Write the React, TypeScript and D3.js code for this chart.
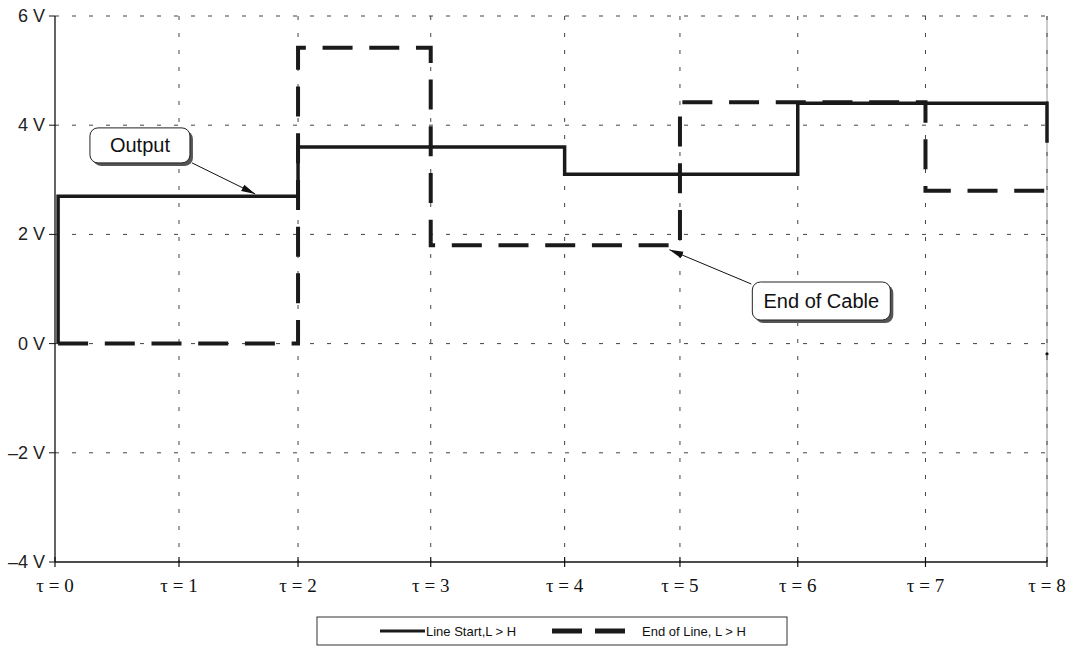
import React from "react";
import * as d3 from "d3";

// ---- Data ----
// tick positions on the time axis (in units of tau) and their labels
const tickTimes = [0, 1.0, 1.96, 3.03, 4.11, 5.04, 5.99, 7.02, 8];
const tickLabels = ["τ = 0", "τ = 1", "τ = 2", "τ = 3", "τ = 4", "τ = 5", "τ = 6", "τ = 7", "τ = 8"];
const yTicks = [6, 4, 2, 0, -2, -4];
const yTickLabels = ["6 V", "4 V", "2 V", "0 V", "–2 V", "–4 V"];

// Line Start, L > H (solid) — vertices of the step trace
const solidT = [0.025, 0.025, 1.96, 1.96, 4.11, 4.11, 5.99, 5.99, 8, 8];
const solidV = [0, 2.7, 2.7, 3.6, 3.6, 3.1, 3.1, 4.4, 4.4, 3.68];

// End of Line, L > H (dashed)
const dashT = [0.025, 1.96, 1.96, 3.03, 3.03, 5.04, 5.04, 7.02, 7.02, 8];
const dashV = [0, 0, 5.42, 5.42, 1.8, 1.8, 4.42, 4.42, 2.8, 2.8];

const endDotT = [8];
const endDotV = [-0.19];

const seriesNames = ["Line Start,L > H", "End of Line, L > H"];

const W = 1073;
const H = 647;
const M = { left: 55, right: 1047, top: 16, bottom: 562 };

export default function App() {
  const x = d3.scaleLinear().domain([0, 8]).range([M.left, M.right]);
  const y = d3.scaleLinear().domain([-4, 6]).range([M.bottom, M.top]);

  const line = d3
    .line<[number, number]>()
    .x((d) => x(d[0]))
    .y((d) => y(d[1]));

  const solidPts = solidT.map((t, i) => [t, solidV[i]] as [number, number]);
  const dashPts = dashT.map((t, i) => [t, dashV[i]] as [number, number]);

  const sans = "'Liberation Sans', Arial, sans-serif";
  const serif = "'Liberation Serif', 'Times New Roman', serif";

  // annotations (box centre in data coords, arrow tip in data coords)
  const annotations = [
    { text: "Output", cx: 0.685, cv: 3.63, w: 100, h: 35, tipT: 1.615, tipV: 2.74, corner: "br" },
    { text: "End of Cable", cx: 6.18, cv: 0.78, w: 138, h: 38, tipT: 4.955, tipV: 1.72, corner: "tl" },
  ];

  return (
    <svg
      width={W}
      height={H}
      style={{ position: "absolute", left: 0, top: 0, background: "#fff" }}
    >
      <defs>
        <marker
          id="arrow"
          viewBox="0 0 14 8"
          refX="14"
          refY="4"
          markerWidth="14"
          markerHeight="8"
          markerUnits="userSpaceOnUse"
          orient="auto"
        >
          <path d="M0,0.5 L14,4 L0,7.5 Z" fill="#111" />
        </marker>
      </defs>

      {/* horizontal gridlines */}
      {yTicks
        .filter((v) => v !== -4)
        .map((v) => (
          <line
            key={"hg" + v}
            x1={M.left}
            x2={M.right}
            y1={y(v)}
            y2={y(v)}
            stroke="#444"
            strokeWidth={1}
            strokeDasharray="4,13"
          />
        ))}
      {/* right border */}
      <line x1={M.right} x2={M.right} y1={M.top} y2={M.bottom} stroke="#999" strokeWidth={1} />
      {/* vertical gridlines */}
      {tickTimes
        .filter((t) => t !== 0)
        .map((t) => (
          <line
            key={"vg" + t}
            x1={x(t)}
            x2={x(t)}
            y1={M.top}
            y2={M.bottom}
            stroke="#444"
            strokeWidth={1}
            strokeDasharray="4,13"
          />
        ))}

      {/* axes */}
      <line x1={M.left} x2={M.left} y1={M.top} y2={M.bottom} stroke="#111" strokeWidth={1.3} />
      <line x1={M.left} x2={M.right} y1={M.bottom} y2={M.bottom} stroke="#111" strokeWidth={1.6} />
      {yTicks.map((v, i) => (
        <g key={"yt" + v}>
          <line x1={M.left - 6} x2={M.left} y1={y(v)} y2={y(v)} stroke="#111" strokeWidth={1} />
          <text
            x={M.left - 10}
            y={y(v) + 6}
            textAnchor="end"
            fontFamily={sans}
            fontSize={18}
            fill="#222"
          >
            {yTickLabels[i]}
          </text>
        </g>
      ))}
      {tickTimes.map((t, i) => (
        <g key={"xt" + i}>
          <line x1={x(t)} x2={x(t)} y1={M.bottom - 5} y2={M.bottom + 5} stroke="#111" strokeWidth={1.2} />
          <text
            x={x(t)}
            y={M.bottom + 30}
            textAnchor="middle"
            fontFamily={serif}
            fontSize={19}
            fill="#111"
          >
            {tickLabels[i]}
          </text>
        </g>
      ))}

      {/* series */}
      <path d={line(solidPts) || ""} fill="none" stroke="#1a1a1a" strokeWidth={3.5} strokeLinejoin="miter" />
      <path
        d={line(dashPts) || ""}
        fill="none"
        stroke="#1a1a1a"
        strokeWidth={4}
        strokeDasharray="30,16.7"
        strokeLinejoin="miter"
      />
      {endDotT.map((t, i) => (
        <circle key={"dot" + i} cx={x(t)} cy={y(endDotV[i])} r={1.6} fill="#111" />
      ))}

      {/* annotations */}
      {annotations.map((a) => {
        const cx = x(a.cx);
        const cy = y(a.cv);
        const bx = cx - a.w / 2;
        const by = cy - a.h / 2;
        const sx = a.corner === "br" ? bx + a.w + 2 : bx - 1;
        const sy = a.corner === "br" ? by + a.h : by + 2;
        return (
          <g key={a.text}>
            <rect x={bx + 3} y={by + 3} width={a.w} height={a.h} rx={8} fill="#555" />
            <rect x={bx} y={by} width={a.w} height={a.h} rx={8} fill="#fff" stroke="#222" strokeWidth={1} />
            <text
              x={cx}
              y={cy + 7}
              textAnchor="middle"
              fontFamily={sans}
              fontSize={20}
              fill="#111"
            >
              {a.text}
            </text>
            <line
              x1={sx}
              y1={sy}
              x2={x(a.tipT)}
              y2={y(a.tipV)}
              stroke="#111"
              strokeWidth={1}
              markerEnd="url(#arrow)"
            />
          </g>
        );
      })}

      {/* legend */}
      <g>
        <rect x={317} y={617} width={470} height={28} fill="#fff" stroke="#333" strokeWidth={1} />
        <line x1={380} x2={425} y1={631} y2={631} stroke="#1a1a1a" strokeWidth={3} />
        <text x={426} y={635.5} fontFamily={sans} fontSize={13} fill="#111">
          {seriesNames[0]}
        </text>
        <line
          x1={552}
          x2={625}
          y1={631}
          y2={631}
          stroke="#1a1a1a"
          strokeWidth={5}
          strokeDasharray="30,13"
        />
        <text x={642} y={635.5} fontFamily={sans} fontSize={13} fill="#111">
          {seriesNames[1]}
        </text>
      </g>
    </svg>
  );
}
